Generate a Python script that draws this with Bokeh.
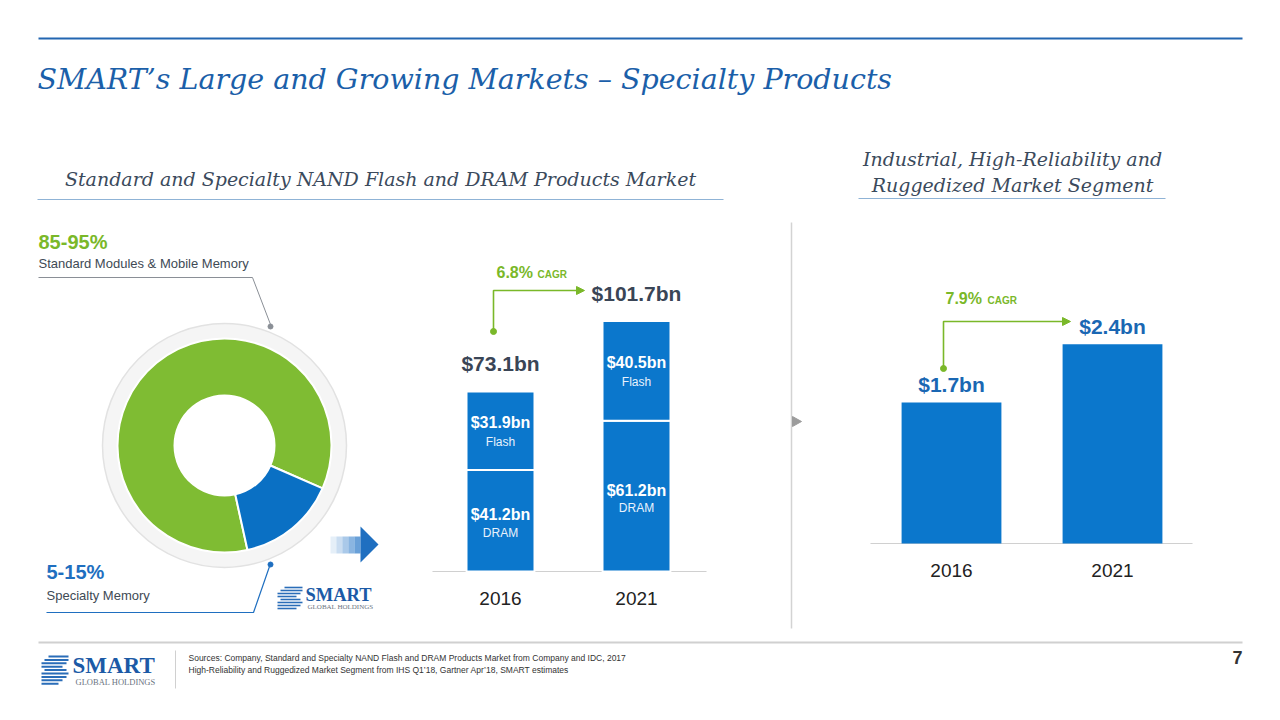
from bokeh.plotting import figure
from bokeh.models import Range1d
from bokeh.core.properties import value
from bokeh.embed import file_html
from bokeh.resources import INLINE
import numpy as np

# ---------------- data ----------------
share_names = ["Standard Modules & Mobile Memory", "Specialty Memory"]
share_ranges = ["85-95%", "5-15%"]
share_values = [85, 15]

mid_years = ["2016", "2021"]
mid_dram = [41.2, 61.2]
mid_flash = [31.9, 40.5]
mid_total_labels = ["$73.1bn", "$101.7bn"]
mid_dram_labels = ["$41.2bn", "$61.2bn"]
mid_flash_labels = ["$31.9bn", "$40.5bn"]
mid_cagr = "6.8%"

right_years = ["2016", "2021"]
right_values = [1.7, 2.4]
right_labels = ["$1.7bn", "$2.4bn"]
right_cagr = "7.9%"

title = "SMART\u2019s Large and Growing Markets \u2013 Specialty Products"
left_subtitle = "Standard and Specialty NAND Flash and DRAM Products Market"
right_subtitle = ["Industrial, High-Reliability and", "Ruggedized Market Segment"]
sources = ["Sources: Company, Standard and Specialty NAND Flash and DRAM Products Market from Company and IDC, 2017",
           "High-Reliability and Ruggedized Market Segment from IHS Q1\u201918, Gartner Apr\u201918, SMART estimates"]

# ---------------- styles ----------------
SANS = "Liberation Sans"
SERIF = "DejaVu Serif"
GREEN = "#7ab829"
BLUE = "#0b77cc"
DARK = "#3a4556"
TITLE_BLUE = "#1b5fa9"

W, H = 1264, 704
X0, X1 = 0, 1264
YB, YT = 16, 720
p = figure(width=W, height=H, x_range=Range1d(X0, X1), y_range=Range1d(YB, YT),
           output_backend="svg", toolbar_location=None, min_border=0,
           x_axis_location=None, y_axis_location=None)
p.grid.visible = False
p.outline_line_color = None
p.background_fill_color = "white"
p.border_fill_color = "white"


def Y(ry):
    return 720 - ry


def txt(x, y, s, size, color, font=SANS, style="normal", align="left", baseline="middle"):
    p.text(x=[x], y=[Y(y)], text=[s], text_font=value(font), text_font_size=f"{size}px",
           text_font_style=style, text_color=color, text_align=align, text_baseline=baseline)


def ln(xs, ys, color, width=1.0):
    p.line(x=xs, y=[Y(v) for v in ys], line_color=color, line_width=width)


def head_right(x, y, color, size=8):
    p.patch(x=[x, x + size, x], y=[Y(y - size / 2), Y(y), Y(y + size / 2)],
            fill_color=color, line_color=color)


# ---------------- header ----------------
ln([38, 1242], [38, 38], "#2366b1", 2)
txt(37, 79, title, 28.5, TITLE_BLUE, font=SERIF, style="italic")

txt(380, 178, left_subtitle, 19, "#3b4a5c", font=SERIF, style="italic", align="center")
ln([37, 723], [199, 199], "#8fb3d6", 1.2)
txt(1012, 158, right_subtitle[0], 19, "#3b4a5c", font=SERIF, style="italic", align="center")
txt(1012, 184, right_subtitle[1], 19, "#3b4a5c", font=SERIF, style="italic", align="center")
ln([858, 1165], [198, 198], "#8fb3d6", 1.2)

# separator
ln([791, 791], [222, 628], "#d3d3d3", 1.5)
p.patch(x=[792, 801, 792], y=[Y(416), Y(421), Y(426)], fill_color="#9c9c9c", line_color="#9c9c9c")

# ---------------- donut ----------------
cx, cy = 224, Y(445)
p.annulus(x=[cx], y=[cy], inner_radius=106, outer_radius=122,
          fill_color="#f5f5f5", line_color="#e2e2e2", line_width=1.5)
frac = np.array(share_values, dtype=float) / sum(share_values)
start0 = np.deg2rad(-77.6)
spec_end = start0 + frac[1] * 2 * np.pi
p.annular_wedge(x=[cx, cx], y=[cy, cy], inner_radius=50, outer_radius=107,
                start_angle=[spec_end, start0], end_angle=[start0 + 2 * np.pi, spec_end],
                fill_color=["#7fbc33", "#0a70c4"], line_color="white", line_width=2)

txt(38, 241, share_ranges[0], 20, GREEN, style="bold")
txt(38, 263, share_names[0], 13, "#404a55")
ln([38, 252, 270], [277, 277, 324], "#8a8f96", 1)
p.scatter(x=[270], y=[Y(326)], size=5, color="#8a8f96")

txt(46, 571, share_ranges[1], 20, "#1f6fc0", style="bold")
txt(46, 595, share_names[1], 13, "#404a55")
ln([46, 253, 269], [612, 612, 566], "#1f6fc0", 1.2)
p.scatter(x=[270], y=[Y(564)], size=5, color="#1f6fc0")

# arrow to bar chart
for i, a in enumerate([0.12, 0.25, 0.4, 0.55, 0.7]):
    x0 = 330 + i * 6
    p.quad(left=[x0], right=[x0 + 6], bottom=[Y(553)], top=[Y(536)], fill_color="#2a78c8",
           fill_alpha=a, line_color=None)
p.patch(x=[360, 378, 360], y=[Y(526), Y(544), Y(562)], fill_color="#1f6fc0", line_color=None)

# small logo
LOGO_BLUE = "#2a6db8"
for k, (a, b) in enumerate([(284, 302), (280, 302), (277, 300), (277, 296), (280, 300), (277, 302), (277, 300), (277, 296)]):
    ln([a, b], [587 + k * 3, 587 + k * 3], LOGO_BLUE, 1.6)
txt(305, 594, "SMART", 18.5, "#1c5aa6", font="Liberation Serif", style="bold")
txt(307, 606, "GLOBAL HOLDINGS", 7, "#6b7480", font="Liberation Serif")

# ---------------- middle stacked bars ----------------
mid_scale = 2.462      # px per $bn
mid_base = Y(571)
mid_x0, mid_step = 500, 136
p.extra_y_ranges["mid_y"] = Range1d((YB - mid_base) / mid_scale, (YT - mid_base) / mid_scale)
p.extra_x_ranges["mid_x"] = Range1d((X0 - mid_x0) / mid_step, (X1 - mid_x0) / mid_step)
mi = np.arange(len(mid_years))
mid_top = np.add(mid_dram, mid_flash)
kw = dict(x_range_name="mid_x", y_range_name="mid_y")
ln([432, 706], [571, 571], "#d0d0d0", 1.2)
p.vbar(x=mi, bottom=0, top=mid_dram, width=0.5, fill_color=BLUE, line_color="white", line_width=2, **kw)
p.vbar(x=mi, bottom=mid_dram, top=mid_top, width=0.5, fill_color=BLUE, line_color="white", line_width=2, **kw)

dram_mid = np.array(mid_dram) / 2
flash_mid = np.array(mid_dram) + np.array(mid_flash) / 2
tk = dict(text_font=value(SANS), text_align="center", text_baseline="middle", **kw)
p.text(x=mi, y=dram_mid, text=mid_dram_labels, y_offset=-6, text_color="white",
       text_font_size="16px", text_font_style="bold", **tk)
p.text(x=mi, y=dram_mid, text=["DRAM"] * 2, y_offset=12, text_color="#e8f2fc", text_font_size="12px", **tk)
p.text(x=mi, y=flash_mid, text=mid_flash_labels, y_offset=-8, text_color="white",
       text_font_size="16px", text_font_style="bold", **tk)
p.text(x=mi, y=flash_mid, text=["Flash"] * 2, y_offset=11, text_color="#e8f2fc", text_font_size="12px", **tk)
p.text(x=mi, y=mid_top, text=mid_total_labels, y_offset=-28, text_color=DARK,
       text_font_size="21px", text_font_style="bold", **tk)
p.text(x=mi, y=[0, 0], text=mid_years, y_offset=27, text_color="#222222", text_font_size="19px", **tk)

# CAGR connector
ln([493, 493, 577], [331, 290, 290], GREEN, 1.6)
p.scatter(x=[493], y=[Y(331)], size=6, color=GREEN)
head_right(576, 290, GREEN, 8)
txt(496, 272, mid_cagr, 16, GREEN, style="bold")
txt(537, 274, "CAGR", 10, GREEN, style="bold")

# ---------------- right bars ----------------
r_scale = 83.0
r_base = Y(543)
r_x0, r_step = 951, 161
p.extra_y_ranges["r_y"] = Range1d((YB - r_base) / r_scale, (YT - r_base) / r_scale)
p.extra_x_ranges["r_x"] = Range1d((X0 - r_x0) / r_step, (X1 - r_x0) / r_step)
ri = np.arange(len(right_years))
rk = dict(x_range_name="r_x", y_range_name="r_y")
ln([870, 1192], [543, 543], "#d0d0d0", 1.2)
p.vbar(x=ri, bottom=0, top=right_values, width=0.62, fill_color=BLUE, line_color=None, **rk)
rtk = dict(text_font=value(SANS), text_align="center", text_baseline="middle", **rk)
p.text(x=ri, y=right_values, text=right_labels, y_offset=-18, text_color="#1a67b3",
       text_font_size="21px", text_font_style="bold", **rtk)
p.text(x=ri, y=[0, 0], text=right_years, y_offset=27, text_color="#222222", text_font_size="19px", **rtk)

ln([943, 943, 1063], [368, 321, 321], GREEN, 1.6)
p.scatter(x=[943], y=[Y(368)], size=6, color=GREEN)
head_right(1062, 321, GREEN, 8)
txt(945, 298, right_cagr, 16, GREEN, style="bold")
txt(987, 300, "CAGR", 10, GREEN, style="bold")

# ---------------- footer ----------------
ln([38, 1242], [642, 642], "#d0d0d0", 2)
ln([175, 175], [650, 688], "#d0d0d0", 1)
for k, (a, b) in enumerate([(48, 68), (44, 68), (41, 66), (41, 62), (44, 66), (41, 68), (41, 66), (41, 62), (41, 58)]):
    ln([a, b], [656 + k * 3.4, 656 + k * 3.4], LOGO_BLUE, 2)
txt(72, 665, "SMART", 23, "#1c5aa6", font="Liberation Serif", style="bold")
txt(75, 681, "GLOBAL HOLDINGS", 8.5, "#6b7480", font="Liberation Serif")
txt(188, 657, sources[0], 8.5, "#333333")
txt(188, 669, sources[1], 8.5, "#333333")
txt(1237, 657, "7", 18, "#333333", style="bold", align="center")

open("out.html", "w").write(file_html(p, INLINE))
